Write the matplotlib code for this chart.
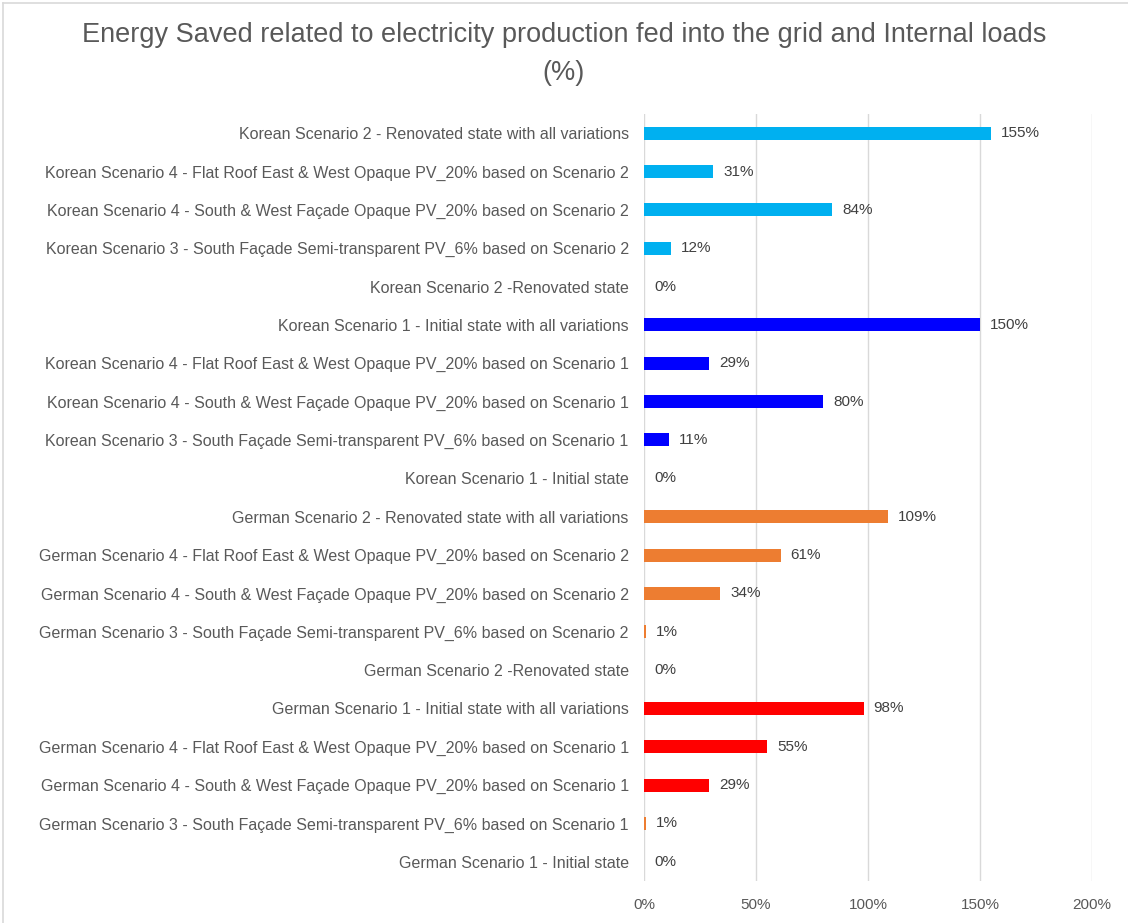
#!/usr/bin/env python3
#
# Energy saved vs. electricity production fed into the grid and internal loads
#

import numpy as np
import matplotlib.pyplot as plt
from matplotlib.lines import Line2D

# top to bottom, as in the chart
labels = [
	'Korean Scenario 2 - Renovated state with all variations',
	'Korean Scenario 4 - Flat Roof East & West Opaque PV_20% based on Scenario 2',
	'Korean Scenario 4 - South & West Façade Opaque PV_20% based on Scenario 2',
	'Korean Scenario 3 - South Façade Semi-transparent PV_6% based on Scenario 2',
	'Korean Scenario 2 -Renovated state',
	'Korean Scenario 1 - Initial state with all variations',
	'Korean Scenario 4 - Flat Roof East & West Opaque PV_20% based on Scenario 1',
	'Korean Scenario 4 - South & West Façade Opaque PV_20% based on Scenario 1',
	'Korean Scenario 3 - South Façade Semi-transparent PV_6% based on Scenario 1',
	'Korean Scenario 1 - Initial state',
	'German Scenario 2 - Renovated state with all variations',
	'German Scenario 4 - Flat Roof East & West Opaque PV_20% based on Scenario 2',
	'German Scenario 4 - South & West Façade Opaque PV_20% based on Scenario 2',
	'German Scenario 3 - South Façade Semi-transparent PV_6% based on Scenario 2',
	'German Scenario 2 -Renovated state',
	'German Scenario 1 - Initial state with all variations',
	'German Scenario 4 - Flat Roof East & West Opaque PV_20% based on Scenario 1',
	'German Scenario 4 - South & West Façade Opaque PV_20% based on Scenario 1',
	'German Scenario 3 - South Façade Semi-transparent PV_6% based on Scenario 1',
	'German Scenario 1 - Initial state',
]
values = [155, 31, 84, 12, 0,
		  150, 29, 80, 11, 0,
		  109, 61, 34, 1, 0,
		  98, 55, 29, 1, 0]
colors = ['#00B0F0'] * 5 + ['#0000FF'] * 5 + ['#ED7D31'] * 5 + \
		 ['#FF0000'] * 3 + ['#ED7D31', '#FF0000']
xticks = [0, 50, 100, 150, 200]

plt.rcParams['font.family'] = ['Liberation Sans', 'DejaVu Sans']

fig = plt.figure(figsize=(11.28, 9.23), dpi=100)
ax = fig.add_axes([0.5709, 0.0455, 0.3972, 0.831])

y = np.arange(len(values))[::-1]
ax.barh(y, values, height=0.34, color=colors, zorder=3)
for yi, v in zip(y, values):
	ax.text(v + 4.5, yi, '%d%%' % v, va='center', ha='left',
			fontsize=11, color='#404040')

ax.set_xlim(0, 200)
ax.set_ylim(-0.5, len(values) - 0.5)
ax.set_yticks(y)
ax.set_yticklabels(labels, fontsize=11.5, color='#595959')
ax.set_xticks(xticks)
ax.set_xticklabels(['%d%%' % t for t in xticks], fontsize=11, color='#595959')
ax.tick_params(axis='both', length=0)
ax.tick_params(axis='y', pad=11)
ax.tick_params(axis='x', pad=12)
ax.grid(axis='x', color='#D9D9D9', linewidth=1, zorder=0)
for s in ax.spines.values():
	s.set_visible(False)

fig.suptitle('Energy Saved related to electricity production fed into the grid and Internal loads\n(%)',
			 y=0.976, fontsize=19.5, color='#595959', linespacing=1.6)

# chart border (top and left visible)
fig.add_artist(Line2D([3 / 1128, 3 / 1128], [0, 1 - 3 / 923], color='#D9D9D9', lw=1.2))
fig.add_artist(Line2D([3 / 1128, 1], [1 - 3 / 923, 1 - 3 / 923], color='#D9D9D9', lw=1.2))

plt.savefig('out.png', dpi=100)
